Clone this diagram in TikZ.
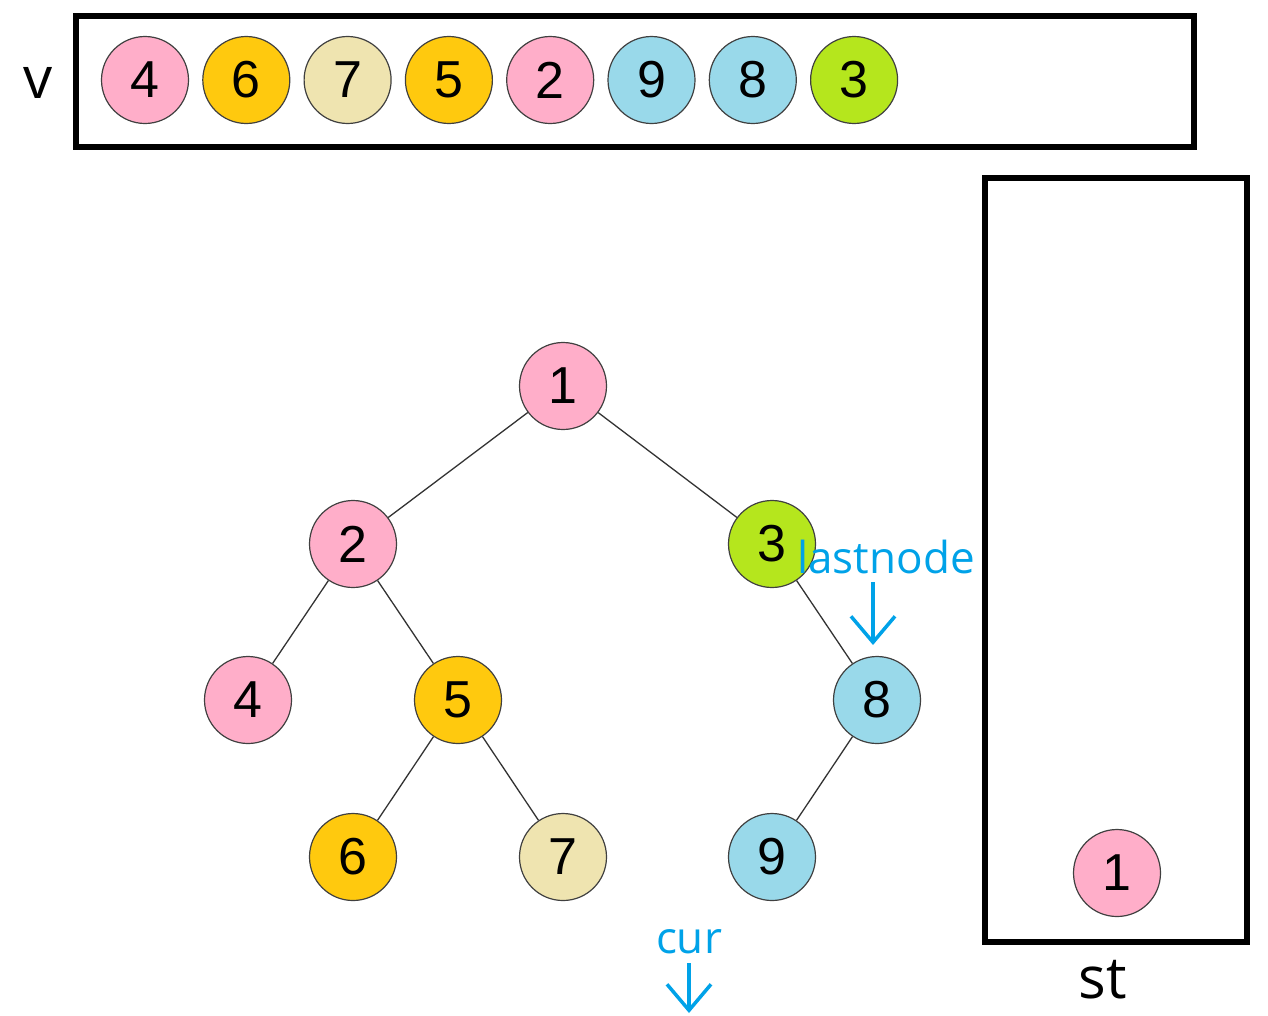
\documentclass[tikz,border=0pt]{standalone}
\usepackage{fontspec}
\setmainfont{Liberation Sans}
\newfontfamily\labelfont{Open Sans}
\usetikzlibrary{arrows.meta}
\definecolor{pinkc}{RGB}{255,174,201}
\definecolor{goldc}{RGB}{255,201,14}
\definecolor{creamc}{RGB}{239,228,176}
\definecolor{bluec}{RGB}{153,217,234}
\definecolor{limec}{RGB}{181,230,29}
\definecolor{ptrblue}{RGB}{0,162,232}
\begin{document}
\begin{tikzpicture}[x=1pt, y=-1pt,
  ball/.style={circle, draw=black!75, line width=1.2pt, minimum size=87pt, inner sep=0pt, font=\fontsize{52}{52}\selectfont},
  edge/.style={draw=black!80, line width=1.3pt},
  box/.style={draw, line width=6pt},
  ptr/.style={draw=ptrblue, line width=3.5pt, -{Straight Barb[length=26pt,width=44pt]}},
  tag/.style={font=\labelfont\fontsize{44}{44}\selectfont, text=ptrblue, inner sep=0pt},
  title/.style={font=\labelfont\fontsize{58}{58}\selectfont, inner sep=0pt}]
\useasboundingbox (0,0) rectangle (1268,1015);
%vector v:
\draw[box] (76,16) rectangle (1194,147);
\node[title, anchor=base] (vlbl) at (38,98) {v};
\foreach \v/\c [count=\i from 0] in {4/pinkc,6/goldc,7/creamc,5/goldc,2/pinkc,9/bluec,8/bluec,3/limec}
  \node[ball, fill=\c] (v\i) at ({145+101.3*\i},80) {\v};
%stack st:
\draw[box] (985,178) rectangle (1247,942);
\node[title, anchor=base] (stlbl) at (1103,998) {st};
\node[ball, fill=pinkc] (s1) at (1117,873) {1};
%tree:
\node[ball, fill=pinkc] (t1) at (563,386) {1};
\node[ball, fill=pinkc] (t2) at (353,544) {2};
\node[ball, fill=limec] (t3) at (772,544) {3};
\node[ball, fill=pinkc] (t4) at (248,700) {4};
\node[ball, fill=goldc] (t5) at (458,700) {5};
\node[ball, fill=bluec] (t8) at (877,700) {8};
\node[ball, fill=goldc] (t6) at (353,857) {6};
\node[ball, fill=creamc] (t7) at (563,857) {7};
\node[ball, fill=bluec] (t9) at (772,857) {9};
\foreach \a/\b in {t1/t2,t1/t3,t2/t4,t2/t5,t5/t6,t5/t7,t3/t8,t8/t9}
  \draw[edge] (\a) -- (\b);
%pointers:
\node[tag, anchor=base] (lastlbl) at (886,573) {lastnode};
\coordinate (lasttop) at (873,582);
\coordinate (lasttip) at (873,645);
\draw[ptr] (lasttop) -- (lasttip);
\node[tag, anchor=base] (curlbl) at (689,953) {cur};
\coordinate (curtop) at (689,963);
\coordinate (curtip) at (689,1013);
\draw[ptr] (curtop) -- (curtip);
\end{tikzpicture}
\end{document}
